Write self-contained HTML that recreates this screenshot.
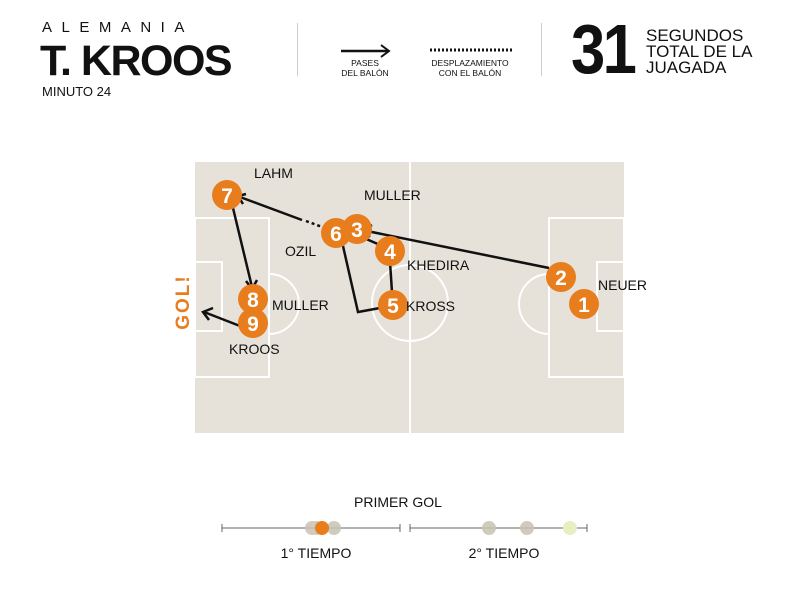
<!DOCTYPE html>
<html><head><meta charset="utf-8"><style>
body{margin:0;width:797px;height:600px;background:#fff;font-family:"Liberation Sans",sans-serif;position:relative;overflow:hidden}
.a{position:absolute;white-space:nowrap;color:#111}
</style></head><body>
<div class="a" style="left:42px;top:19px;font-size:15px;letter-spacing:9.5px">ALEMANIA</div>
<div class="a" style="left:40px;top:37px;font-size:43px;font-weight:bold;letter-spacing:-1.5px">T. KROOS</div>
<div class="a" style="left:42px;top:84px;font-size:13px">MINUTO 24</div>
<div class="a" style="left:297px;top:23px;width:1px;height:53px;background:#ccc"></div>
<div class="a" style="left:541px;top:23px;width:1px;height:53px;background:#ccc"></div>
<svg class="a" style="left:0;top:0" width="797" height="120">
<line x1="341" y1="51" x2="388" y2="51" stroke="#111" stroke-width="2.5"/>
<polyline points="381,45 389,51 381,57" fill="none" stroke="#111" stroke-width="2"/>
<line x1="430" y1="50" x2="514" y2="50" stroke="#111" stroke-width="3" stroke-dasharray="2,2"/>
</svg>
<div class="a" style="left:330px;top:58px;width:70px;text-align:center;font-size:8.5px;line-height:10px">PASES<br>DEL BALÓN</div>
<div class="a" style="left:420px;top:58px;width:100px;text-align:center;font-size:8.5px;line-height:10px">DESPLAZAMIENTO<br>CON EL BALÓN</div>
<div class="a" style="left:571px;top:14px;font-size:70px;font-weight:bold;line-height:70px;letter-spacing:-3px;transform:scaleX(0.88);transform-origin:left">31</div>
<div class="a" style="left:646px;top:28px;font-size:17px;line-height:16px">SEGUNDOS<br>TOTAL DE LA<br>JUAGADA</div>

<svg class="a" style="left:0;top:0" width="797" height="600" font-family="Liberation Sans, sans-serif">
<rect x="195" y="162" width="429" height="271" fill="#e6e2da"/>
<g fill="none" stroke="#fff" stroke-width="2">
<line x1="410" y1="162" x2="410" y2="433"/>
<circle cx="410" cy="303" r="38"/>
<rect x="195" y="218" width="74" height="159"/>
<rect x="195" y="262" width="27" height="69"/>
<rect x="549" y="218" width="75" height="159"/>
<rect x="597" y="262" width="27" height="69"/>
<path d="M269,274 A30,30 0 0 1 269,334"/>
<path d="M549,274 A30,30 0 0 0 549,334"/>
</g>
<g stroke="#111" stroke-width="2.5" fill="none">
<line x1="549" y1="268" x2="362" y2="230"/>
<polyline points="372,225 362,230 370,237"/>
<line x1="380" y1="245" x2="364" y2="238"/>
<line x1="390" y1="262" x2="392" y2="292"/>
<polyline points="380,308 358,312 343,246"/>
<line x1="302" y1="220" x2="240" y2="197"/>
<line x1="306" y1="221" x2="325" y2="228" stroke-dasharray="3,3"/>
<polyline points="246,194 238,196 243,204"/>
<line x1="233" y1="208" x2="252" y2="287"/>
<polyline points="246,281 252,289 257,280"/>
<line x1="240" y1="326" x2="204" y2="312"/>
<polyline points="213,308 203,312 209,320"/>
</g>
<g fill="#e87d1e">
<circle cx="584" cy="304" r="15"/><circle cx="561" cy="277" r="15"/>
<circle cx="336" cy="233" r="15"/><circle cx="357" cy="229" r="15"/>
<circle cx="390" cy="251" r="15"/><circle cx="393" cy="305" r="15"/>
<circle cx="227" cy="195" r="15"/><circle cx="253" cy="299" r="15"/><circle cx="253" cy="323" r="15"/>
</g>
<g fill="#fff" font-size="21" font-weight="bold" text-anchor="middle">
<text x="584" y="312">1</text><text x="561" y="285">2</text><text x="336" y="241">6</text>
<text x="357" y="237">3</text><text x="390" y="259">4</text><text x="393" y="313">5</text>
<text x="227" y="203">7</text><text x="253" y="307">8</text><text x="253" y="331">9</text>
</g>
<g fill="#111" font-size="14">
<text x="254" y="178">LAHM</text><text x="364" y="200">MULLER</text><text x="285" y="256">OZIL</text>
<text x="407" y="270">KHEDIRA</text><text x="406" y="311">KROSS</text><text x="598" y="290">NEUER</text>
<text x="272" y="310">MULLER</text><text x="229" y="354">KROOS</text>
</g>
<text x="189" y="302" fill="#e87d1e" font-size="19" font-weight="bold" letter-spacing="2" text-anchor="middle" transform="rotate(-90 189 302)">GOL!</text>
<text x="398" y="507" fill="#111" font-size="14" text-anchor="middle">PRIMER GOL</text>
<g stroke="#666" stroke-width="1">
<line x1="222" y1="528" x2="400" y2="528"/><line x1="222" y1="524" x2="222" y2="532"/><line x1="400" y1="524" x2="400" y2="532"/>
<line x1="410" y1="528" x2="587" y2="528"/><line x1="410" y1="524" x2="410" y2="532"/><line x1="587" y1="524" x2="587" y2="532"/>
</g>
<g fill="#c9c2b3" opacity="0.85">
<circle cx="312" cy="528" r="7"/><circle cx="316" cy="528" r="7"/><circle cx="334" cy="528" r="7"/>
<circle cx="489" cy="528" r="7"/><circle cx="527" cy="528" r="7"/>
</g>
<circle cx="322" cy="528" r="7" fill="#e87d1e"/>
<circle cx="570" cy="528" r="7" fill="#e6efc2"/>
<text x="316" y="558" fill="#111" font-size="14" text-anchor="middle">1° TIEMPO</text>
<text x="504" y="558" fill="#111" font-size="14" text-anchor="middle">2° TIEMPO</text>
</svg>
</body></html>
